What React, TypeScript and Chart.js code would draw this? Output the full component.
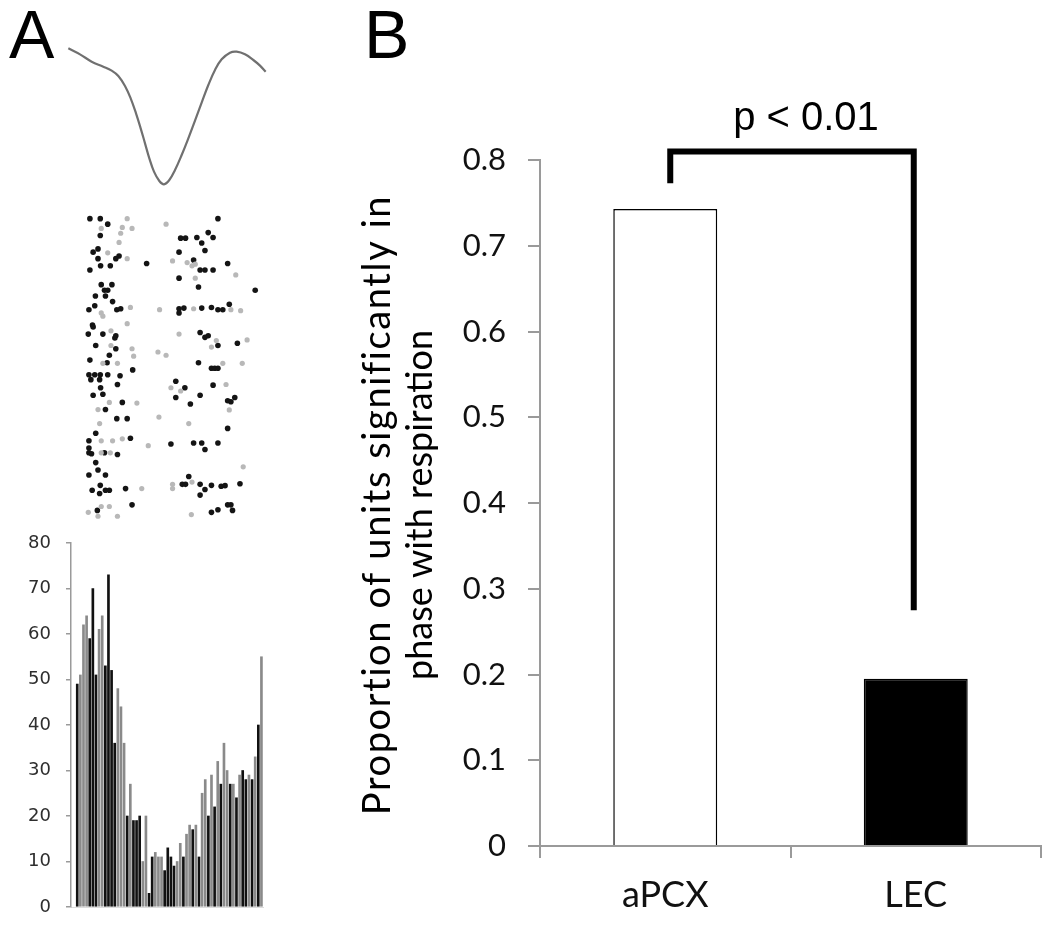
import React, { useEffect, useRef } from "react";
import { Chart, registerables } from "chart.js";

Chart.register(...registerables);

// ---------- Panel A: spike waveform (sample position, amplitude) ----------
const waveX = [205, 240, 275, 310, 335, 355, 375, 392, 408, 422, 435, 448, 462, 478, 492, 508, 525, 545, 565, 585, 605, 625, 645, 665, 690, 710, 735, 760, 780, 797];
const waveY = [-145, -163, -185, -200, -212, -228, -258, -295, -340, -385, -430, -475, -515, -543, -553, -540, -510, -465, -415, -362, -308, -255, -210, -178, -158, -155, -163, -180, -197, -215];

// ---------- Panel A: raster (phase position, trial position) ----------
const rasterDark: [number, number][] = [
  [265, 45], [297, 45], [660, 45], [320, 62], [297, 97], [630, 88], [545, 105], [560, 105], [595, 103], [645, 103],
  [610, 120], [290, 138], [620, 143], [275, 148], [540, 148], [355, 160], [290, 168], [345, 168], [585, 172], [440, 183],
  [690, 183], [298, 190], [328, 190], [265, 203], [605, 203], [620, 203], [645, 203], [540, 228], [300, 248], [333, 248],
  [600, 255], [310, 265], [320, 265], [775, 265], [282, 283], [313, 283], [335, 300], [280, 313], [695, 308], [262, 325],
  [348, 325], [360, 322], [540, 322], [555, 320], [610, 320], [640, 318], [660, 325], [675, 325], [540, 335], [273, 372],
  [275, 378], [605, 395], [260, 400], [305, 400], [345, 405], [342, 412], [630, 405], [620, 410], [720, 428], [283, 435],
  [660, 435], [345, 445], [325, 465], [265, 480], [600, 488], [318, 488], [640, 505], [650, 505], [660, 505], [397, 510],
  [262, 525], [280, 525], [297, 525], [320, 525], [358, 528], [268, 540], [295, 540], [530, 545], [350, 555], [645, 557],
  [298, 565], [558, 565], [275, 588], [305, 585], [530, 595], [605, 588], [690, 605], [712, 595], [700, 608], [365, 610],
  [575, 615], [313, 632], [348, 660], [380, 660], [690, 690], [283, 705], [390, 720], [262, 728], [515, 738], [585, 735],
  [610, 735], [660, 735], [262, 750], [620, 755], [262, 765], [270, 768], [310, 765], [350, 770], [283, 795], [290, 818],
  [262, 833], [313, 833], [570, 838], [550, 862], [560, 862], [605, 862], [640, 865], [670, 868], [682, 866], [728, 860],
  [297, 865], [375, 875], [620, 878], [272, 880], [313, 880], [325, 880], [295, 890], [605, 895], [395, 925], [690, 925],
  [700, 925], [288, 942], [660, 940], [705, 942], [640, 948],
];
const rasterLight: [number, number][] = [
  [380, 45], [500, 62], [300, 75], [365, 72], [395, 75], [360, 90], [355, 118], [320, 150], [380, 168], [520, 175],
  [565, 180], [590, 185], [580, 190], [715, 218], [590, 228], [390, 318], [480, 325], [585, 322], [700, 325], [730, 328],
  [300, 335], [305, 345], [380, 368], [330, 390], [540, 400], [655, 420], [750, 418], [330, 435], [640, 440], [395, 445],
  [475, 455], [400, 468], [500, 465], [350, 490], [305, 490], [675, 490], [735, 490], [685, 555], [515, 565], [545, 575],
  [325, 610], [410, 612], [290, 632], [695, 633], [478, 655], [570, 675], [295, 675], [365, 722], [300, 728], [335, 728],
  [445, 743], [300, 765], [328, 765], [738, 808], [580, 855], [520, 862], [425, 875], [520, 875], [300, 930], [325, 930],
  [260, 948], [578, 955], [350, 960], [290, 960],
];

// ---------- Panel A: phase histogram (60 bins, counts) ----------
const histTicks = [0, 10, 20, 30, 40, 50, 60, 70, 80];
const histDark: (number | null)[] = [
  49, null, null, null, 59, 70, 51, null, null, 53,
  73, 52, 36, null, null, null, 20, null, 19, 19,
  20, null, null, 3, 11, null, null, null, 8, 13,
  11, 9, null, null, 11, null, null, 17, null, 11,
  null, null, 20, null, 22, null, 27, null, null, 27,
  null, 24, null, 30, 28, null, 28, null, 40, null,
];
const histLight: (number | null)[] = [
  null, 51, 62, 64, null, null, null, 61, 64, null,
  null, null, null, 48, 44, 36, null, 27, null, null,
  null, 10, 20, null, null, 12, 11, 11, null, null,
  null, null, 10, 14, null, 16, 18, null, 18, null,
  25, 28, null, 29, null, 32, null, 36, 30, null,
  27, null, 29, null, null, 29, null, 33, null, 55,
];

// ---------- Panel B ----------
const groups = ["aPCX", "LEC"];
const proportions = [0.743, 0.195];
const yTicksB = [0, 0.1, 0.2, 0.3, 0.4, 0.5, 0.6, 0.7, 0.8];
const yTitleB = ["Proportion of units significantly in", "phase with respiration"];
const pLabel = "p < 0.01";
const bracketTop = 0.81;
const bracketLeftEnd = 0.773;
const bracketRightEnd = 0.275;

function toPoints(vals: (number | null)[]) {
  const out: { x: number; y: number }[] = [];
  vals.forEach((v, i) => {
    if (v !== null) out.push({ x: i, y: v });
  });
  return out;
}

function ChartBox(props: { left: number; top: number; width: number; height: number; make: () => any }) {
  const ref = useRef<HTMLCanvasElement>(null);
  useEffect(() => {
    const chart = new Chart(ref.current as HTMLCanvasElement, props.make());
    return () => chart.destroy();
  }, []);
  return (
    <canvas
      ref={ref}
      width={props.width}
      height={props.height}
      style={{ position: "absolute", left: props.left, top: props.top, width: props.width, height: props.height }}
    />
  );
}

const commonPlugins = { legend: { display: false }, tooltip: { enabled: false } };

function makeWave() {
  return {
    type: "scatter",
    data: {
      datasets: [
        {
          data: waveX.map((x, i) => ({ x, y: waveY[i] })),
          showLine: true,
          pointRadius: 0,
          borderColor: "#707070",
          borderWidth: 2.2,
          tension: 0.4,
        },
      ],
    },
    options: {
      responsive: false,
      animation: false,
      layout: { padding: 0 },
      plugins: commonPlugins,
      scales: {
        x: { type: "linear", min: 0, max: 870, display: false },
        y: { type: "linear", min: -600, max: 0, display: false },
      },
    },
  };
}

function makeRaster() {
  return {
    type: "scatter",
    data: {
      datasets: [
        {
          data: rasterLight.map(([x, y]) => ({ x, y })),
          pointRadius: 2.6,
          pointBorderWidth: 0,
          backgroundColor: "#b8b8b8",
        },
        {
          data: rasterDark.map(([x, y]) => ({ x, y })),
          pointRadius: 2.8,
          pointBorderWidth: 0,
          backgroundColor: "#141414",
        },
      ],
    },
    options: {
      responsive: false,
      animation: false,
      layout: { padding: 0 },
      plugins: commonPlugins,
      scales: {
        x: { type: "linear", min: 0, max: 870, display: false },
        y: { type: "linear", min: 0, max: 990, reverse: true, display: false },
      },
    },
  };
}

function makeHist() {
  return {
    type: "bar",
    data: {
      datasets: [
        { data: toPoints(histLight), backgroundColor: "#8a8a8a", barThickness: 2, grouped: false },
        { data: toPoints(histDark), backgroundColor: "#111111", barThickness: 2, grouped: false },
      ],
    },
    options: {
      responsive: false,
      animation: false,
      layout: { padding: { top: 13, right: 27, left: 0, bottom: 0 } },
      plugins: commonPlugins,
      scales: {
        x: {
          type: "linear",
          min: -2,
          max: 59.5,
          offset: false,
          ticks: { display: false },
          grid: { display: false },
          border: { display: true, color: "#dddddd", width: 1 },
          afterFit: (s: any) => {
            s.height = 20;
            s.paddingLeft = 0;
            s.paddingRight = 0;
          },
        },
        y: {
          min: 0,
          max: 80,
          afterBuildTicks: (s: any) => {
            s.ticks = histTicks.map((v) => ({ value: v }));
          },
          ticks: {
            font: { family: "DejaVu Sans", size: 18 },
            color: "#2e2e2e",
            padding: 15,
          },
          grid: { drawOnChartArea: false, tickLength: 5, color: "#9a9a9a", lineWidth: 1.5 },
          border: { display: true, color: "#9a9a9a", width: 1.5 },
          afterFit: (s: any) => {
            s.width = 71;
            s.paddingTop = 0;
            s.paddingBottom = 0;
          },
        },
      },
    },
  };
}

const bracketPlugin = {
  id: "bracket",
  afterDatasetsDraw(chart: any) {
    const { ctx, scales } = chart;
    const xs = scales.x;
    const ys = scales.y;
    const xl = xs.getPixelForValue(0) + 5;
    const xr = xs.getPixelForValue(1) - 2;
    const yTop = ys.getPixelForValue(bracketTop);
    ctx.save();
    ctx.strokeStyle = "#000";
    ctx.lineWidth = 6;
    ctx.lineJoin = "miter";
    ctx.lineCap = "butt";
    ctx.beginPath();
    ctx.moveTo(xl, ys.getPixelForValue(bracketLeftEnd));
    ctx.lineTo(xl, yTop);
    ctx.lineTo(xr, yTop);
    ctx.lineTo(xr, ys.getPixelForValue(bracketRightEnd));
    ctx.stroke();
    ctx.fillStyle = "#000";
    ctx.font = '40px "Liberation Sans", Arial, sans-serif';
    ctx.textAlign = "center";
    ctx.textBaseline = "alphabetic";
    ctx.fillText(pLabel, (xl + xr) / 2 + 14, yTop - 21);
    ctx.restore();
  },
};

// Two-line rotated y-axis title, centred on the plot's vertical middle
const yTitlePlugin = {
  id: "yTitle",
  afterDraw(chart: any) {
    const { ctx, chartArea } = chart;
    const cy = (chartArea.top + chartArea.bottom) / 2 + 2;
    const lines = [
      { text: yTitleB[0], x: 48, size: 38, spacing: "1.6px" },
      { text: yTitleB[1], x: 90, size: 36, spacing: "0px" },
    ];
    ctx.save();
    ctx.fillStyle = "#000";
    ctx.textAlign = "center";
    ctx.textBaseline = "middle";
    for (const l of lines) {
      ctx.save();
      ctx.font = `${l.size}px Lato, sans-serif`;
      try {
        (ctx as any).letterSpacing = l.spacing;
      } catch (e) {}
      ctx.translate(l.x, cy);
      ctx.rotate(-Math.PI / 2);
      ctx.fillText(l.text, 0, 0);
      ctx.restore();
    }
    ctx.restore();
  },
};

function makeBars() {
  return {
    type: "bar",
    data: {
      labels: groups,
      datasets: [
        {
          data: proportions,
          backgroundColor: ["#ffffff", "#000000"],
          borderColor: "#000000",
          borderWidth: 1.5,
          barPercentage: 0.415,
          categoryPercentage: 1,
        },
      ],
    },
    plugins: [bracketPlugin, yTitlePlugin],
    options: {
      responsive: false,
      animation: false,
      layout: { padding: { top: 160, right: 9, left: 0, bottom: 0 } },
      plugins: commonPlugins,
      scales: {
        x: {
          ticks: { font: { family: "Lato", size: 36 }, color: "#111", padding: 16 },
          grid: { drawOnChartArea: false, tickLength: 12, color: "#9a9a9a", lineWidth: 2, offset: true },
          border: { display: true, color: "#9a9a9a", width: 2 },
          afterFit: (s: any) => {
            s.height = 81;
          },
        },
        y: {
          min: 0,
          max: 0.8,
          afterBuildTicks: (s: any) => {
            s.ticks = yTicksB.map((v) => ({ value: v }));
          },
          ticks: {
            font: { family: "Lato", size: 31 },
            color: "#111",
            padding: 22,
            callback: (v: any) => (Number(v) === 0 ? "0" : Number(v).toFixed(1)),
          },
          grid: { drawOnChartArea: false, tickLength: 12, color: "#9a9a9a", lineWidth: 2 },
          border: { display: true, color: "#9a9a9a", width: 2 },
          afterFit: (s: any) => {
            s.width = 210;
          },
        },
      },
    },
  };
}

const panelLetter: React.CSSProperties = {
  position: "absolute",
  top: 0,
  fontFamily: '"Liberation Sans", Arial, sans-serif',
  fontSize: 68,
  lineHeight: "68px",
  color: "#000",
};

export default function App() {
  return (
    <div style={{ position: "absolute", left: 0, top: 0, width: 1050, height: 927, background: "#fff", overflow: "hidden" }}>
      <ChartBox left={0} top={0} width={290} height={200} make={makeWave} />
      <ChartBox left={0} top={200} width={290} height={330} make={makeRaster} />
      <ChartBox left={0} top={530} width={290} height={397} make={makeHist} />
      <ChartBox left={330} top={0} width={720} height={927} make={makeBars} />
      <div style={{ ...panelLetter, left: 9 }}>A</div>
      <div style={{ ...panelLetter, left: 364 }}>B</div>
    </div>
  );
}
